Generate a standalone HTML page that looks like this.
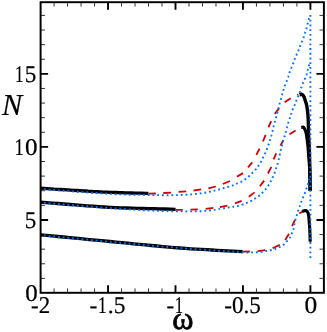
<!DOCTYPE html>
<html><head><meta charset="utf-8"><title>chart</title>
<style>
html,body{margin:0;padding:0;background:#fff;}
body{width:327px;height:332px;position:relative;overflow:hidden;font-family:"Liberation Serif",serif;}
#lb{position:absolute;left:0;top:0;width:327px;height:332px;will-change:transform;}
.t{position:absolute;left:0;top:0;font-family:"Liberation Serif",serif;font-size:24px;line-height:1;color:#000;white-space:nowrap;transform-origin:0 0;}
.o{display:inline-block;transform:scaleX(0.74);margin:0 -0.7px;}
</style></head><body>
<svg width="327" height="332" viewBox="0 0 327 332" style="position:absolute;left:0;top:0">
<rect width="327" height="332" fill="#fff"/>
<path d="M54.09 292.80v-4.40M54.09 2.20v4.40" stroke="#000" stroke-width="0.8"/>
<path d="M67.58 292.80v-4.40M67.58 2.20v4.40" stroke="#000" stroke-width="0.8"/>
<path d="M81.07 292.80v-4.40M81.07 2.20v4.40" stroke="#000" stroke-width="0.8"/>
<path d="M94.56 292.80v-4.40M94.56 2.20v4.40" stroke="#000" stroke-width="0.8"/>
<path d="M108.05 292.80v-7.50M108.05 2.20v7.50" stroke="#000" stroke-width="1.9"/>
<path d="M121.54 292.80v-4.40M121.54 2.20v4.40" stroke="#000" stroke-width="0.8"/>
<path d="M135.03 292.80v-4.40M135.03 2.20v4.40" stroke="#000" stroke-width="0.8"/>
<path d="M148.52 292.80v-4.40M148.52 2.20v4.40" stroke="#000" stroke-width="0.8"/>
<path d="M162.01 292.80v-4.40M162.01 2.20v4.40" stroke="#000" stroke-width="0.8"/>
<path d="M175.50 292.80v-7.50M175.50 2.20v7.50" stroke="#000" stroke-width="1.9"/>
<path d="M188.99 292.80v-4.40M188.99 2.20v4.40" stroke="#000" stroke-width="0.8"/>
<path d="M202.48 292.80v-4.40M202.48 2.20v4.40" stroke="#000" stroke-width="0.8"/>
<path d="M215.97 292.80v-4.40M215.97 2.20v4.40" stroke="#000" stroke-width="0.8"/>
<path d="M229.46 292.80v-4.40M229.46 2.20v4.40" stroke="#000" stroke-width="0.8"/>
<path d="M242.95 292.80v-7.50M242.95 2.20v7.50" stroke="#000" stroke-width="1.9"/>
<path d="M256.44 292.80v-4.40M256.44 2.20v4.40" stroke="#000" stroke-width="0.8"/>
<path d="M269.93 292.80v-4.40M269.93 2.20v4.40" stroke="#000" stroke-width="0.8"/>
<path d="M283.42 292.80v-4.40M283.42 2.20v4.40" stroke="#000" stroke-width="0.8"/>
<path d="M296.91 292.80v-4.40M296.91 2.20v4.40" stroke="#000" stroke-width="0.8"/>
<path d="M310.40 292.80v-7.50M310.40 2.20v7.50" stroke="#000" stroke-width="1.9"/>
<path d="M40.60 278.39h4.40M323.90 278.39h-4.40" stroke="#000" stroke-width="0.8"/>
<path d="M40.60 263.78h4.40M323.90 263.78h-4.40" stroke="#000" stroke-width="0.8"/>
<path d="M40.60 249.17h4.40M323.90 249.17h-4.40" stroke="#000" stroke-width="0.8"/>
<path d="M40.60 234.56h4.40M323.90 234.56h-4.40" stroke="#000" stroke-width="0.8"/>
<path d="M40.60 219.95h7.50M323.90 219.95h-7.50" stroke="#000" stroke-width="1.9"/>
<path d="M40.60 205.34h4.40M323.90 205.34h-4.40" stroke="#000" stroke-width="0.8"/>
<path d="M40.60 190.73h4.40M323.90 190.73h-4.40" stroke="#000" stroke-width="0.8"/>
<path d="M40.60 176.12h4.40M323.90 176.12h-4.40" stroke="#000" stroke-width="0.8"/>
<path d="M40.60 161.51h4.40M323.90 161.51h-4.40" stroke="#000" stroke-width="0.8"/>
<path d="M40.60 146.90h7.50M323.90 146.90h-7.50" stroke="#000" stroke-width="1.9"/>
<path d="M40.60 132.29h4.40M323.90 132.29h-4.40" stroke="#000" stroke-width="0.8"/>
<path d="M40.60 117.68h4.40M323.90 117.68h-4.40" stroke="#000" stroke-width="0.8"/>
<path d="M40.60 103.07h4.40M323.90 103.07h-4.40" stroke="#000" stroke-width="0.8"/>
<path d="M40.60 88.46h4.40M323.90 88.46h-4.40" stroke="#000" stroke-width="0.8"/>
<path d="M40.60 73.85h7.50M323.90 73.85h-7.50" stroke="#000" stroke-width="1.9"/>
<path d="M40.60 59.24h4.40M323.90 59.24h-4.40" stroke="#000" stroke-width="0.8"/>
<path d="M40.60 44.63h4.40M323.90 44.63h-4.40" stroke="#000" stroke-width="0.8"/>
<path d="M40.60 30.02h4.40M323.90 30.02h-4.40" stroke="#000" stroke-width="0.8"/>
<path d="M40.60 15.41h4.40M323.90 15.41h-4.40" stroke="#000" stroke-width="0.8"/>
<polyline points="40.5,188.2 43.8,188.4 47.2,188.6 50.6,188.8 54.0,189.1 57.4,189.3 60.8,189.5 64.2,189.7 67.5,189.9 70.8,190.1 74.0,190.3 77.0,190.5 80.0,190.7 82.8,190.9 85.5,191.0 88.0,191.2 90.4,191.3 92.7,191.5 95.1,191.6 97.4,191.7 99.7,191.8 102.1,192.0 104.6,192.1 107.2,192.2 110.0,192.3 112.9,192.4 115.9,192.5 119.0,192.6 122.2,192.7 125.4,192.8 128.7,192.9 132.0,193.0 135.3,193.1 138.6,193.1 141.9,193.2 145.2,193.3 148.4,193.4" fill="none" stroke="#000" stroke-width="3.3" stroke-linejoin="round"/>
<polyline points="40.5,202.2 46.3,202.6 52.1,203.1 58.0,203.5 63.8,204.0 69.7,204.5 75.5,204.9 81.3,205.4 87.1,205.8 92.9,206.2 98.6,206.6 104.3,207.0 110.0,207.3 115.6,207.6 121.2,207.8 126.7,208.0 132.2,208.2 137.6,208.4 143.0,208.5 148.5,208.6 153.9,208.7 159.3,208.9 164.7,209.0 170.1,209.1 175.6,209.3" fill="none" stroke="#000" stroke-width="3.3" stroke-linejoin="round"/>
<polyline points="40.5,234.8 46.3,235.4 52.1,235.9 57.9,236.5 63.6,237.0 69.4,237.6 75.2,238.2 81.0,238.7 86.8,239.3 92.6,239.8 98.4,240.4 104.2,240.9 110.0,241.5 115.8,242.1 121.7,242.6 127.6,243.2 133.6,243.8 139.5,244.4 145.4,244.9 151.3,245.5 157.2,246.0 163.0,246.6 168.8,247.1 174.4,247.6 180.0,248.0 185.5,248.4 190.9,248.8 196.2,249.1 201.4,249.4 206.6,249.7 211.8,250.0 216.9,250.3 222.0,250.6 227.1,250.8 232.3,251.1 237.4,251.4 242.6,251.7" fill="none" stroke="#000" stroke-width="3.3" stroke-linejoin="round"/>
<polyline points="299.7,94.7 299.8,94.7 300.0,94.6 300.1,94.5 300.3,94.4 300.4,94.4 300.6,94.3 300.7,94.2 300.9,94.2 301.0,94.2 301.2,94.2 301.3,94.2 301.5,94.2 301.7,94.3 301.8,94.3 302.0,94.4 302.2,94.5 302.3,94.7 302.5,94.8 302.7,94.9 302.8,95.1 303.0,95.3 303.2,95.5 303.3,95.8 303.5,96.0 303.7,96.3 303.8,96.6 304.0,96.9 304.1,97.3 304.2,97.6 304.4,98.0 304.5,98.4 304.7,98.8 304.8,99.2 304.9,99.6 305.1,100.0 305.2,100.4 305.3,100.8 305.5,101.2 305.6,101.6 305.7,102.0 305.8,102.4 306.0,102.8 306.1,103.2 306.2,103.6 306.3,103.9 306.4,104.3 306.5,104.7 306.6,105.1 306.7,105.5 306.8,105.8 306.8,106.1 306.9,106.5 306.9,106.8 307.0,107.1 307.0,107.5 307.1,107.8 307.1,108.2 307.2,108.6 307.2,109.0 307.3,109.4 307.4,109.9 307.4,110.3 307.5,110.8 307.5,111.3 307.6,111.9 307.7,112.4 307.7,113.0 307.8,113.5 307.8,114.1 307.9,114.7 308.0,115.4 308.0,116.0 308.0,116.7 308.1,117.3 308.1,118.1 308.2,118.8 308.2,119.5 308.2,120.3 308.3,121.1 308.3,121.8 308.3,122.6 308.3,123.4 308.4,124.2 308.4,125.0 308.4,125.8 308.4,126.6 308.5,127.4 308.5,128.2 308.5,129.0 308.5,129.9 308.5,130.7 308.5,131.6 308.5,132.4 308.5,133.3 308.6,134.1 308.6,135.0 308.6,135.9 308.7,136.7 308.7,137.6 308.8,138.5 308.8,139.4 308.9,140.2 308.9,141.2 309.0,142.1 309.1,143.0 309.1,144.0 309.2,145.0 309.2,146.0 309.2,147.1 309.3,148.2 309.3,149.3 309.4,150.5 309.4,151.7 309.4,152.9 309.5,154.2 309.5,155.4 309.5,156.6 309.5,157.7 309.6,158.9 309.6,160.0 309.6,161.0 309.7,162.0 309.7,163.0 309.7,163.9 309.7,164.8 309.8,165.7 309.8,166.6 309.8,167.6 309.8,168.6 309.9,169.6 309.9,170.8 309.9,172.0 309.9,173.3 309.9,174.8 310.0,176.3 310.0,177.8 310.0,179.4 310.0,181.1 310.0,182.7 310.0,184.4 310.1,186.1 310.1,187.8 310.1,189.4 310.1,191.0" fill="none" stroke="#000" stroke-width="3.4" stroke-linejoin="round"/>
<polyline points="301.3,127.5 301.5,127.5 301.7,127.4 301.8,127.4 302.0,127.3 302.2,127.2 302.4,127.2 302.6,127.1 302.8,127.1 302.9,127.1 303.1,127.1 303.2,127.1 303.4,127.2 303.5,127.3 303.7,127.4 303.8,127.6 303.9,127.7 304.0,127.9 304.2,128.1 304.3,128.3 304.4,128.5 304.5,128.7 304.6,129.0 304.7,129.2 304.8,129.4 304.9,129.6 305.0,129.8 305.1,130.1 305.2,130.3 305.3,130.5 305.4,130.8 305.5,131.0 305.6,131.2 305.7,131.5 305.7,131.7 305.8,132.0 305.9,132.2 306.0,132.4 306.0,132.7 306.1,132.9 306.1,133.1 306.2,133.3 306.2,133.5 306.3,133.7 306.3,134.0 306.4,134.2 306.4,134.5 306.4,134.8 306.5,135.1 306.6,135.5 306.6,135.8 306.7,136.2 306.7,136.6 306.8,137.1 306.8,137.5 306.9,138.0 307.0,138.4 307.0,138.9 307.1,139.4 307.1,139.8 307.2,140.3 307.3,140.7 307.3,141.2 307.4,141.6 307.4,142.0 307.5,142.5 307.5,142.9 307.6,143.4 307.7,143.8 307.7,144.3 307.8,144.9 307.8,145.4 307.9,146.0 308.0,146.6 308.0,147.3 308.1,148.0 308.1,148.7 308.2,149.5 308.2,150.2 308.3,151.0 308.4,151.8 308.4,152.6 308.5,153.4 308.5,154.2 308.6,155.0 308.7,155.8 308.7,156.6 308.8,157.5 308.9,158.4 308.9,159.2 309.0,160.1 309.1,161.0 309.2,161.9 309.2,162.7 309.3,163.5 309.3,164.3 309.4,165.0 309.4,165.7 309.5,166.2 309.5,166.7 309.6,167.1 309.6,167.5 309.6,167.9 309.7,168.4 309.7,168.9 309.7,169.5 309.7,170.2 309.8,171.0 309.8,172.0 309.8,173.2 309.9,174.5 309.9,175.9 309.9,177.4 309.9,179.1 310.0,180.8 310.0,182.5 310.0,184.2 310.0,186.0 310.1,187.7 310.1,189.4 310.1,191.0" fill="none" stroke="#000" stroke-width="3.1" stroke-linejoin="round"/>
<polyline points="302.1,211.5 302.3,211.4 302.5,211.4 302.7,211.3 302.9,211.2 303.1,211.1 303.3,211.1 303.5,211.0 303.7,210.9 303.9,210.8 304.1,210.8 304.3,210.7 304.5,210.7 304.7,210.7 304.8,210.6 305.0,210.6 305.2,210.6 305.3,210.5 305.4,210.5 305.6,210.5 305.7,210.5 305.9,210.5 306.0,210.6 306.2,210.6 306.3,210.7 306.4,210.8 306.6,210.9 306.7,211.0 306.9,211.1 307.0,211.3 307.2,211.4 307.3,211.6 307.4,211.8 307.6,212.0 307.7,212.2 307.8,212.4 307.9,212.6 308.0,212.8 308.1,213.0 308.2,213.3 308.2,213.5 308.3,213.8 308.4,214.0 308.4,214.3 308.5,214.6 308.5,214.9 308.6,215.3 308.6,215.6 308.7,216.0 308.8,216.4 308.8,216.8 308.8,217.3 308.9,217.7 308.9,218.2 309.0,218.7 309.0,219.2 309.0,219.8 309.1,220.3 309.1,220.9 309.2,221.4 309.2,222.0 309.2,222.6 309.3,223.2 309.3,223.8 309.4,224.4 309.5,225.0 309.5,225.6 309.6,226.3 309.6,227.0 309.7,227.7 309.7,228.4 309.8,229.2 309.8,230.0 309.8,230.9 309.9,231.7 309.9,232.7 309.9,233.7 310.0,234.6 310.0,235.7 310.0,236.7 310.1,237.7 310.1,238.8 310.1,239.8 310.2,240.8 310.2,241.8" fill="none" stroke="#000" stroke-width="3.1" stroke-linejoin="round"/>
<path d="M148.4 193.7L155.9 193.5M163.3 193.0L171.1 192.7M178.6 191.9L186.2 191.3M193.6 190.5L201.2 189.4M208.4 188.3L215.8 186.5M222.8 184.0L230.0 181.0M236.9 176.7L243.0 173.1M248.0 167.3L252.3 162.3M256.4 154.8L259.5 148.7M263.0 141.5L265.6 134.9M268.4 127.3L271.2 121.2M274.8 113.9L279.1 108.3M284.6 102.2L290.7 98.3M297.2 95.0L298.4 94.5" fill="none" stroke="#d40008" stroke-width="1.8"/>
<path d="M175.6 209.8L182.8 209.9M190.5 209.7L197.8 209.4M205.7 208.9L213.3 207.9M219.9 207.1L227.4 205.7M235.0 203.3L241.7 200.9M248.8 196.7L254.6 192.4M259.9 186.3L264.1 180.6M267.9 173.5L271.4 166.9M273.5 159.4L276.3 153.3M280.4 145.6L283.4 140.3M289.5 134.2L295.6 130.4" fill="none" stroke="#d40008" stroke-width="1.8"/>
<path d="M242.6 251.6L249.9 251.5M257.6 251.2L265.3 250.2M272.6 248.3L279.8 244.9M285.2 239.9L289.0 233.8M292.0 226.1L294.9 220.1M299.3 213.6L302.1 211.8" fill="none" stroke="#d40008" stroke-width="1.8"/>
<polyline points="40.5,189.1 43.8,189.3 47.1,189.6 50.4,189.8 53.7,190.0 57.0,190.3 60.3,190.5 63.6,190.8 66.9,191.0 70.2,191.2 73.5,191.5 76.8,191.7 80.0,191.9 83.2,192.1 86.5,192.3 89.8,192.6 93.1,192.8 96.3,193.0 99.6,193.2 102.8,193.4 106.0,193.6 109.1,193.8 112.1,194.0 115.1,194.2 118.0,194.3 120.8,194.4 123.4,194.5 126.0,194.6 128.5,194.7 131.0,194.7 133.4,194.8 135.8,194.8 138.1,194.9 140.5,194.9 143.0,194.9 145.5,195.0 148.0,195.0 150.6,195.0 153.3,195.1 156.0,195.1 158.8,195.1 161.6,195.2 164.3,195.2 167.1,195.2 169.8,195.2 172.5,195.2 175.1,195.1 177.6,195.1 180.0,195.0 182.3,194.9 184.5,194.8 186.7,194.7 188.7,194.6 190.7,194.4 192.7,194.3 194.7,194.1 196.6,193.9 198.6,193.7 200.5,193.4 202.5,193.1 204.5,192.8 206.6,192.4 208.8,192.0 211.0,191.5 213.3,190.9 215.6,190.3 217.8,189.7 220.0,189.2 222.1,188.6 224.0,188.0 225.9,187.5 227.5,187.0 229.0,186.6 230.2,186.2 231.3,185.9 232.2,185.6 233.0,185.3 233.6,185.1 234.2,184.9 234.6,184.7 235.1,184.5 235.5,184.3 235.9,184.1 236.3,183.9 236.8,183.7 237.3,183.5 237.7,183.3 238.1,183.2 238.5,183.1 238.8,182.9 239.2,182.8 239.5,182.7 239.8,182.5 240.1,182.4 240.4,182.2 240.8,182.1 241.1,181.9 241.5,181.7 241.8,181.5 242.2,181.3 242.6,181.0 242.9,180.8 243.3,180.6 243.7,180.3 244.0,180.1 244.4,179.8 244.7,179.6 245.1,179.3 245.4,179.1 245.7,178.9 246.1,178.6 246.4,178.4 246.7,178.1 247.0,177.9 247.3,177.6 247.6,177.4 247.9,177.1 248.2,176.9 248.5,176.6 248.8,176.4 249.1,176.1 249.4,175.8 249.7,175.6 249.9,175.3 250.2,175.1 250.5,174.8 250.7,174.6 251.0,174.3 251.2,174.1 251.5,173.8 251.8,173.5 252.0,173.3 252.3,173.0 252.6,172.7 252.8,172.4 253.1,172.2 253.4,171.9 253.7,171.6 254.0,171.3 254.3,171.0 254.5,170.7 254.8,170.4 255.1,170.1 255.3,169.8 255.6,169.5 255.9,169.2 256.1,168.9 256.3,168.6 256.6,168.3 256.8,168.0 257.0,167.7 257.3,167.4 257.5,167.1 257.7,166.8 258.0,166.4 258.2,166.1 258.4,165.8 258.6,165.5 258.8,165.2 259.1,164.8 259.3,164.5 259.5,164.2 259.7,163.9 259.9,163.5 260.2,163.2 260.4,162.9 260.6,162.5 260.8,162.2 261.0,161.8 261.2,161.4 261.4,161.1 261.6,160.8 261.7,160.4 261.9,160.1 262.1,159.7 262.3,159.4 262.4,159.0 262.6,158.6 262.8,158.1 263.1,157.6 263.3,157.1 263.6,156.5 263.9,155.9 264.2,155.3 264.5,154.6 264.8,153.9 265.2,153.2 265.5,152.4 265.8,151.7 266.2,150.9 266.5,150.2 266.8,149.4 267.1,148.7 267.4,148.0 267.7,147.2 267.9,146.4 268.2,145.7 268.5,144.9 268.7,144.1 269.0,143.3 269.3,142.5 269.5,141.8 269.7,141.0 270.0,140.2 270.2,139.5 270.4,138.8 270.6,138.0 270.9,137.3 271.1,136.5 271.3,135.8 271.5,135.0 271.7,134.3 271.9,133.6 272.0,132.9 272.2,132.3 272.4,131.7 272.5,131.1 272.6,130.6 272.8,130.1 272.9,129.6 273.0,129.2 273.0,128.8 273.1,128.5 273.2,128.1 273.3,127.7 273.3,127.4 273.4,127.0 273.5,126.7 273.6,126.3 273.7,125.9 273.8,125.5 273.9,125.2 274.0,124.8 274.1,124.4 274.2,124.0 274.3,123.7 274.4,123.3 274.5,122.9 274.6,122.6 274.7,122.2 274.8,121.8 274.9,121.4 275.0,121.0 275.1,120.7 275.2,120.3 275.3,119.9 275.5,119.5 275.6,119.1 275.7,118.7 275.8,118.4 275.9,118.0 276.0,117.6 276.1,117.2 276.2,116.8 276.3,116.4 276.4,116.0 276.5,115.7 276.6,115.3 276.7,114.9 276.8,114.5 276.9,114.1 277.0,113.7 277.1,113.4 277.2,113.0 277.3,112.6 277.4,112.2 277.5,111.8 277.6,111.5 277.7,111.1 277.8,110.7 277.9,110.3 278.0,110.0 278.1,109.6 278.2,109.2 278.3,108.9 278.4,108.5 278.5,108.1 278.6,107.7 278.7,107.3 278.8,107.0 278.9,106.6 279.0,106.2 279.1,105.8 279.2,105.4 279.3,105.0 279.4,104.7 279.5,104.3 279.6,103.9 279.7,103.5 279.8,103.1 279.9,102.7 280.0,102.3 280.1,101.9 280.2,101.5 280.4,101.1 280.5,100.7 280.6,100.4 280.7,100.0 280.8,99.6 280.9,99.2 281.0,98.8 281.1,98.4 281.2,98.0 281.3,97.7 281.4,97.3 281.5,96.9 281.6,96.5 281.7,96.2 281.8,95.8 281.9,95.4 282.0,95.0 282.1,94.7 282.2,94.3 282.3,93.9 282.4,93.6 282.5,93.2 282.6,92.9 282.7,92.5 282.8,92.1 282.9,91.8 283.0,91.4 283.1,91.1 283.2,90.7 283.3,90.4 283.4,90.0 283.5,89.7 283.6,89.3 283.7,89.0 283.8,88.8 283.9,88.5 284.0,88.2 284.1,87.9 284.2,87.5 284.4,87.1 284.5,86.7 284.7,86.2 284.9,85.7 285.1,85.1 285.4,84.4 285.7,83.6 286.0,82.7 286.4,81.9 286.7,81.0 287.1,80.1 287.4,79.2 287.7,78.4 288.0,77.6 288.3,76.8 288.5,76.2 288.7,75.6 288.8,75.1 289.0,74.7 289.1,74.3 289.2,73.9 289.3,73.6 289.3,73.2 289.4,72.9 289.5,72.6 289.6,72.3 289.7,72.0 289.8,71.6 289.9,71.2 290.1,70.9 290.2,70.5 290.3,70.2 290.5,69.9 290.6,69.5 290.8,69.2 290.9,68.9 291.1,68.5 291.2,68.2 291.4,67.8 291.5,67.5 291.6,67.1 291.8,66.8 291.9,66.4 292.1,66.1 292.3,65.7 292.4,65.4 292.6,65.0 292.7,64.7 292.9,64.3 293.0,63.9 293.2,63.6 293.3,63.2 293.4,62.8 293.6,62.5 293.7,62.1 293.8,61.7 294.0,61.3 294.1,60.9 294.2,60.5 294.3,60.1 294.5,59.8 294.6,59.4 294.8,59.0 294.9,58.6 295.1,58.2 295.2,57.8 295.4,57.4 295.5,57.0 295.7,56.6 295.9,56.2 296.1,55.9 296.2,55.5 296.4,55.1 296.6,54.7 296.7,54.4 296.9,54.0 297.1,53.7 297.2,53.3 297.4,53.0 297.5,52.7 297.7,52.4 297.8,52.1 298.0,51.8 298.1,51.5 298.3,51.2 298.4,50.9 298.6,50.5 298.7,50.2 298.8,49.8 299.0,49.5 299.1,49.1 299.2,48.7 299.3,48.3 299.4,48.0 299.6,47.6 299.7,47.2 299.8,46.8 299.9,46.4 300.1,46.0 300.2,45.6 300.4,45.2 300.5,44.8 300.7,44.4 300.8,44.1 301.0,43.7 301.2,43.3 301.4,42.9 301.5,42.5 301.7,42.1 301.9,41.7 302.0,41.4 302.2,41.0 302.3,40.6 302.5,40.3 302.6,39.9 302.8,39.5 302.9,39.2 303.0,38.8 303.2,38.5 303.3,38.1 303.4,37.8 303.6,37.4 303.7,37.1 303.8,36.7 303.9,36.3 304.0,36.0 304.1,35.6 304.2,35.3 304.4,34.9 304.5,34.6 304.6,34.2 304.7,33.8 304.8,33.5 304.9,33.1 305.0,32.8 305.1,32.4 305.2,32.0 305.3,31.7 305.5,31.3 305.6,30.9 305.7,30.6 305.9,30.2 306.0,29.8 306.1,29.4 306.2,29.1 306.4,28.7 306.5,28.3 306.6,27.9 306.7,27.5 306.8,27.1 306.9,26.7 307.0,26.3 307.1,25.9 307.2,25.4 307.3,25.0 307.4,24.6 307.5,24.2 307.6,23.8 307.7,23.4 307.8,23.0 307.9,22.6 308.0,22.2 308.1,21.8 308.2,21.4 308.3,21.0 308.4,20.7 308.5,20.3 308.6,19.9 308.7,19.6 308.8,19.2 308.9,18.9 309.0,18.6 309.1,18.3 309.2,18.1 309.3,17.8 309.4,17.6 309.5,17.4 309.6,17.1 309.7,16.9 309.8,16.7 309.9,16.5 310.0,16.3 310.1,16.1 310.2,15.9" fill="none" stroke="#0070ff" stroke-width="1.9" stroke-dasharray="1.8 2.93" stroke-dashoffset="1.33"/>
<polyline points="40.5,202.6 43.8,202.9 47.2,203.1 50.6,203.4 54.0,203.7 57.4,204.0 60.8,204.3 64.2,204.5 67.5,204.8 70.8,205.1 74.0,205.3 77.0,205.6 80.0,205.8 82.8,206.0 85.4,206.2 87.9,206.4 90.3,206.6 92.7,206.8 95.0,207.0 97.3,207.2 99.6,207.4 102.0,207.5 104.5,207.7 107.2,207.9 110.0,208.1 113.0,208.3 116.2,208.5 119.5,208.7 123.0,208.9 126.5,209.2 130.0,209.4 133.5,209.6 137.0,209.8 140.5,210.0 143.8,210.2 147.0,210.4 150.0,210.5 152.9,210.6 155.6,210.8 158.3,210.9 160.9,211.0 163.5,211.1 166.0,211.1 168.4,211.2 170.8,211.3 173.1,211.3 175.4,211.3 177.7,211.4 180.0,211.4 182.2,211.4 184.4,211.4 186.5,211.4 188.6,211.4 190.6,211.4 192.6,211.4 194.6,211.4 196.5,211.3 198.5,211.3 200.5,211.2 202.5,211.1 204.5,210.9 206.6,210.7 208.8,210.5 211.0,210.2 213.2,209.9 215.5,209.6 217.7,209.2 219.9,208.9 222.0,208.5 224.0,208.2 225.8,207.9 227.5,207.6 229.0,207.4 230.3,207.2 231.5,207.0 232.5,206.9 233.3,206.7 234.1,206.6 234.8,206.5 235.4,206.4 236.0,206.3 236.5,206.2 237.0,206.1 237.6,206.0 238.1,205.9 238.6,205.8 239.1,205.7 239.6,205.6 239.9,205.5 240.3,205.4 240.7,205.3 241.0,205.2 241.3,205.1 241.6,205.0 241.9,204.8 242.2,204.7 242.6,204.6 243.0,204.5 243.3,204.3 243.7,204.2 244.1,204.0 244.4,203.9 244.8,203.7 245.1,203.6 245.5,203.4 245.8,203.3 246.2,203.1 246.5,203.0 246.9,202.8 247.3,202.7 247.6,202.5 248.0,202.4 248.3,202.2 248.7,202.1 249.0,201.9 249.4,201.8 249.7,201.7 250.1,201.5 250.4,201.3 250.8,201.2 251.1,201.0 251.4,200.8 251.8,200.6 252.1,200.4 252.4,200.2 252.7,200.0 253.0,199.8 253.3,199.6 253.6,199.4 253.9,199.1 254.3,198.9 254.6,198.7 254.9,198.5 255.2,198.3 255.6,198.1 255.9,197.9 256.3,197.7 256.6,197.5 256.9,197.3 257.3,197.1 257.6,196.8 258.0,196.6 258.3,196.4 258.7,196.1 259.0,195.9 259.3,195.6 259.7,195.4 260.0,195.1 260.3,194.8 260.6,194.5 261.0,194.2 261.3,193.9 261.6,193.6 261.9,193.3 262.2,193.0 262.5,192.7 262.8,192.4 263.1,192.1 263.4,191.8 263.7,191.5 263.9,191.2 264.2,190.9 264.5,190.5 264.7,190.2 265.0,189.9 265.3,189.6 265.5,189.3 265.8,189.0 266.0,188.7 266.2,188.4 266.5,188.1 266.7,187.8 266.9,187.5 267.1,187.3 267.4,187.0 267.6,186.7 267.8,186.4 268.0,186.1 268.2,185.8 268.4,185.5 268.6,185.2 268.8,184.9 269.0,184.6 269.2,184.2 269.4,183.9 269.6,183.5 269.8,183.2 270.0,182.9 270.2,182.5 270.4,182.2 270.5,181.8 270.7,181.5 270.9,181.1 271.1,180.7 271.3,180.4 271.4,180.0 271.6,179.7 271.8,179.3 271.9,179.0 272.1,178.6 272.3,178.3 272.4,177.9 272.6,177.5 272.7,177.2 272.9,176.8 273.1,176.4 273.2,176.1 273.4,175.7 273.6,175.3 273.7,174.9 273.9,174.5 274.0,174.1 274.2,173.7 274.4,173.4 274.5,173.0 274.7,172.6 274.8,172.2 274.9,171.8 275.1,171.4 275.2,171.0 275.3,170.7 275.5,170.3 275.6,169.9 275.7,169.5 275.8,169.1 275.9,168.7 276.1,168.4 276.2,168.0 276.3,167.6 276.4,167.2 276.6,166.9 276.7,166.5 276.8,166.1 276.9,165.8 277.1,165.4 277.2,165.0 277.3,164.6 277.4,164.3 277.6,163.9 277.7,163.5 277.8,163.1 277.9,162.7 278.0,162.3 278.1,161.9 278.2,161.5 278.3,161.1 278.4,160.7 278.5,160.3 278.6,159.9 278.7,159.4 278.8,159.0 278.9,158.4 279.0,157.9 279.1,157.3 279.3,156.7 279.4,156.0 279.6,155.4 279.7,154.7 279.9,154.0 280.0,153.2 280.2,152.5 280.4,151.7 280.6,151.0 280.7,150.2 280.9,149.5 281.1,148.7 281.3,148.0 281.5,147.2 281.7,146.4 281.9,145.5 282.1,144.7 282.3,143.9 282.5,143.1 282.7,142.4 282.8,141.6 283.0,140.9 283.2,140.3 283.4,139.7 283.5,139.2 283.7,138.7 283.8,138.3 284.0,137.9 284.1,137.5 284.3,137.2 284.4,136.8 284.5,136.4 284.7,135.9 284.8,135.4 285.0,134.9 285.2,134.3 285.3,133.7 285.5,133.0 285.7,132.2 285.9,131.5 286.1,130.7 286.3,130.0 286.5,129.2 286.6,128.5 286.8,127.9 287.0,127.3 287.1,126.7 287.2,126.2 287.3,125.8 287.5,125.4 287.6,125.0 287.6,124.6 287.7,124.3 287.8,124.0 287.9,123.7 288.0,123.4 288.1,123.1 288.2,122.8 288.3,122.4 288.4,122.0 288.5,121.7 288.7,121.3 288.8,120.9 288.9,120.5 289.1,120.2 289.2,119.8 289.4,119.4 289.5,119.0 289.6,118.7 289.8,118.3 289.9,117.9 290.0,117.5 290.2,117.1 290.3,116.7 290.4,116.3 290.5,115.9 290.7,115.5 290.8,115.1 290.9,114.7 291.0,114.3 291.2,114.0 291.3,113.6 291.4,113.2 291.5,112.8 291.6,112.5 291.8,112.1 291.9,111.8 292.0,111.4 292.1,111.1 292.2,110.7 292.4,110.4 292.5,110.0 292.6,109.7 292.8,109.4 292.9,109.0 293.0,108.6 293.2,108.3 293.4,107.9 293.5,107.6 293.7,107.2 293.8,106.9 294.0,106.5 294.2,106.1 294.3,105.8 294.5,105.4 294.6,105.1 294.8,104.7 294.9,104.3 295.1,104.0 295.2,103.6 295.4,103.3 295.5,102.9 295.7,102.6 295.8,102.2 295.9,101.8 296.1,101.5 296.2,101.1 296.4,100.8 296.5,100.4 296.6,100.0 296.8,99.7 296.9,99.3 297.1,98.9 297.3,98.5 297.4,98.1 297.6,97.8 297.7,97.4 297.9,97.0 298.0,96.6 298.2,96.3 298.3,95.9 298.4,95.6 298.6,95.2 298.7,94.9 298.8,94.6 298.9,94.3 299.0,94.0 299.2,93.7 299.3,93.4 299.4,93.1 299.6,92.7 299.7,92.3 299.9,91.8 300.1,91.3 300.3,90.7 300.5,90.1 300.7,89.5 300.9,88.8 301.1,88.1 301.4,87.5 301.6,86.8 301.8,86.1 302.0,85.4 302.3,84.8 302.5,84.2 302.7,83.6 303.0,83.0 303.2,82.5 303.5,81.9 303.7,81.3 304.0,80.8 304.2,80.2 304.5,79.7 304.7,79.2 304.9,78.7 305.1,78.2 305.3,77.8 305.5,77.4 305.6,77.0 305.8,76.7 305.9,76.3 306.0,76.0 306.2,75.7 306.3,75.4 306.4,75.2 306.5,74.9 306.6,74.6 306.7,74.2 306.8,73.9 306.9,73.5 307.0,73.2 307.1,72.8 307.2,72.4 307.3,72.0 307.4,71.6 307.5,71.2 307.6,70.8 307.6,70.4 307.7,70.0 307.8,69.7 307.9,69.3 308.0,69.0 308.1,68.6 308.2,68.3 308.2,68.0 308.3,67.7 308.4,67.3 308.5,67.0 308.6,66.8 308.7,66.5 308.7,66.2 308.8,65.9 308.9,65.7 309.0,65.5 309.1,65.3 309.2,65.1 309.3,64.9 309.3,64.7 309.4,64.5 309.5,64.3 309.6,64.2 309.7,64.0 309.8,63.9 309.8,63.7 309.9,63.6 310.0,63.5 310.0,63.3 310.0,63.2 310.1,63.1 310.1,63.0 310.1,62.9 310.2,62.8 310.2,62.7 310.2,62.6 310.2,62.5 310.3,62.4 310.3,62.3" fill="none" stroke="#0070ff" stroke-width="1.9" stroke-dasharray="1.8 2.93" stroke-dashoffset="1.33"/>
<polyline points="40.5,235.2 43.8,235.5 47.1,235.8 50.4,236.2 53.7,236.5 57.0,236.8 60.3,237.1 63.6,237.4 66.9,237.7 70.2,238.1 73.5,238.4 76.8,238.7 80.0,239.0 83.1,239.3 86.0,239.6 88.8,239.9 91.5,240.1 94.2,240.4 97.0,240.7 99.8,240.9 102.9,241.2 106.1,241.5 109.7,241.9 113.6,242.2 118.0,242.6 122.9,243.0 128.3,243.5 134.1,244.0 140.2,244.6 146.6,245.1 153.1,245.7 159.7,246.3 166.2,246.8 172.6,247.4 178.8,247.9 184.6,248.4 190.0,248.8 195.2,249.2 200.3,249.6 205.4,249.9 210.4,250.3 215.3,250.6 220.0,250.9 224.5,251.2 228.7,251.5 232.6,251.7 236.1,251.9 239.3,252.1 242.0,252.3 244.2,252.4 245.9,252.5 247.1,252.6 248.0,252.6 248.5,252.6 248.8,252.6 249.0,252.5 249.0,252.5 249.1,252.5 249.2,252.4 249.5,252.4 250.0,252.4 250.6,252.4 251.2,252.4 251.8,252.4 252.3,252.4 252.8,252.4 253.4,252.4 253.9,252.4 254.5,252.4 255.0,252.4 255.6,252.4 256.3,252.4 256.9,252.3 257.6,252.2 258.3,252.2 259.0,252.1 259.8,252.0 260.5,251.9 261.3,251.8 262.1,251.7 262.9,251.5 263.7,251.4 264.5,251.3 265.2,251.1 266.0,251.0 266.8,250.9 267.5,250.7 268.3,250.6 269.1,250.5 269.9,250.3 270.7,250.2 271.5,250.0 272.2,249.8 273.0,249.6 273.8,249.4 274.5,249.2 275.2,249.0 275.9,248.7 276.6,248.5 277.3,248.2 278.0,247.9 278.7,247.5 279.4,247.2 280.0,246.9 280.7,246.5 281.3,246.2 281.9,245.9 282.4,245.5 282.9,245.2 283.4,244.9 283.8,244.6 284.1,244.2 284.5,243.9 284.8,243.6 285.1,243.3 285.3,243.0 285.6,242.7 285.9,242.3 286.1,242.0 286.4,241.7 286.7,241.4 287.0,241.1 287.3,240.8 287.6,240.5 287.9,240.2 288.2,239.9 288.5,239.6 288.7,239.2 289.0,238.9 289.3,238.6 289.5,238.3 289.8,237.9 290.0,237.6 290.2,237.2 290.4,236.9 290.6,236.5 290.8,236.1 290.9,235.7 291.1,235.3 291.3,235.0 291.4,234.6 291.6,234.2 291.7,233.8 291.9,233.4 292.0,233.0 292.1,232.6 292.3,232.3 292.4,231.9 292.6,231.5 292.7,231.2 292.8,230.8 293.0,230.4 293.1,230.1 293.2,229.7 293.4,229.3 293.5,228.8 293.6,228.4 293.7,227.9 293.8,227.5 293.9,227.0 294.0,226.5 294.0,226.1 294.1,225.6 294.2,225.0 294.3,224.5 294.4,223.9 294.5,223.3 294.6,222.7 294.8,222.0 295.0,221.3 295.2,220.5 295.4,219.7 295.7,218.8 296.0,217.9 296.2,217.0 296.5,216.1 296.8,215.2 297.1,214.3 297.4,213.4 297.6,212.5 297.9,211.7 298.2,210.9 298.4,210.1 298.7,209.3 298.9,208.6 299.2,207.8 299.4,207.0 299.7,206.3 299.9,205.5 300.2,204.8 300.4,204.0 300.7,203.3 301.0,202.5 301.3,201.7 301.6,201.0 301.9,200.2 302.2,199.4 302.6,198.7 302.9,197.9 303.2,197.1 303.6,196.4 303.9,195.6 304.2,194.8 304.5,194.1 304.8,193.3 305.1,192.5 305.4,191.8 305.6,191.0 305.9,190.2 306.2,189.5 306.4,188.7 306.7,187.9 307.0,187.2 307.2,186.4 307.4,185.7 307.7,184.9 307.9,184.2 308.1,183.5 308.3,182.8 308.5,182.1 308.7,181.4 308.9,180.7 309.1,180.0 309.3,179.4 309.5,178.7 309.6,178.0 309.8,177.4 310.0,176.7 310.2,176.0" fill="none" stroke="#0070ff" stroke-width="1.9" stroke-dasharray="1.8 2.93" stroke-dashoffset="1.33"/>
<polyline points="310.4,15.0 310.4,258.2" fill="none" stroke="#0070ff" stroke-width="1.9" stroke-dasharray="1.8 2.931"/>
<rect x="40.60" y="2.20" width="283.30" height="290.60" fill="none" stroke="#000" stroke-width="1.95"/>
</svg>
<div id="lb"><div class="t" style="font-size:24.00px;transform:translate(14.43px,61.90px) scale(0.9644,1) skewX(0.05deg);"><span style="-webkit-text-stroke:0.22px #000"><span class="o">1</span>5</span></div>
<div class="t" style="font-size:24.00px;transform:translate(13.92px,134.90px) scale(1.0446,1) skewX(0.05deg);"><span style="-webkit-text-stroke:0.22px #000"><span class="o">1</span>0</span></div>
<div class="t" style="font-size:24.00px;transform:translate(24.63px,207.90px) scale(0.9614,1) skewX(0.05deg);"><span style="-webkit-text-stroke:0.22px #000">5</span></div>
<div class="t" style="font-size:24.00px;transform:translate(25.11px,280.90px) scale(1.0378,1) skewX(0.05deg);"><span style="-webkit-text-stroke:0.22px #000">0</span></div>
<div class="t" style="font-size:30.50px;transform:translate(2.09px,90.46px) scale(0.9936,1) skewX(0.05deg);font-style:italic;"><span style="-webkit-text-stroke:0.22px #000">N</span></div>
<div class="t" style="font-size:24.00px;transform:translate(31.09px,292.90px) scale(0.9534,1) skewX(0.05deg);"><span style="-webkit-text-stroke:0.22px #000">-2</span></div>
<div class="t" style="font-size:24.00px;transform:translate(89.49px,292.90px) scale(0.9806,1) skewX(0.05deg);"><span style="-webkit-text-stroke:0.22px #000">-<span class="o">1</span>.5</span></div>
<div class="t" style="font-size:24.00px;transform:translate(166.57px,292.90px) scale(0.9509,1) skewX(0.05deg);"><span style="-webkit-text-stroke:0.22px #000">-<span class="o">1</span></span></div>
<div class="t" style="font-size:24.00px;transform:translate(224.20px,292.90px) scale(0.9658,1) skewX(0.05deg);"><span style="-webkit-text-stroke:0.22px #000">-0.5</span></div>
<div class="t" style="font-size:24.00px;transform:translate(304.49px,292.90px) scale(1.0612,1) skewX(0.05deg);"><span style="-webkit-text-stroke:0.22px #000">0</span></div>
<div class="t" style="font-size:32.20px;transform:translate(172.33px,302.03px) scale(1.0033,1) skewX(0.05deg);"><span style="-webkit-text-stroke:0.75px #000">&omega;</span></div></div>
</body></html>
